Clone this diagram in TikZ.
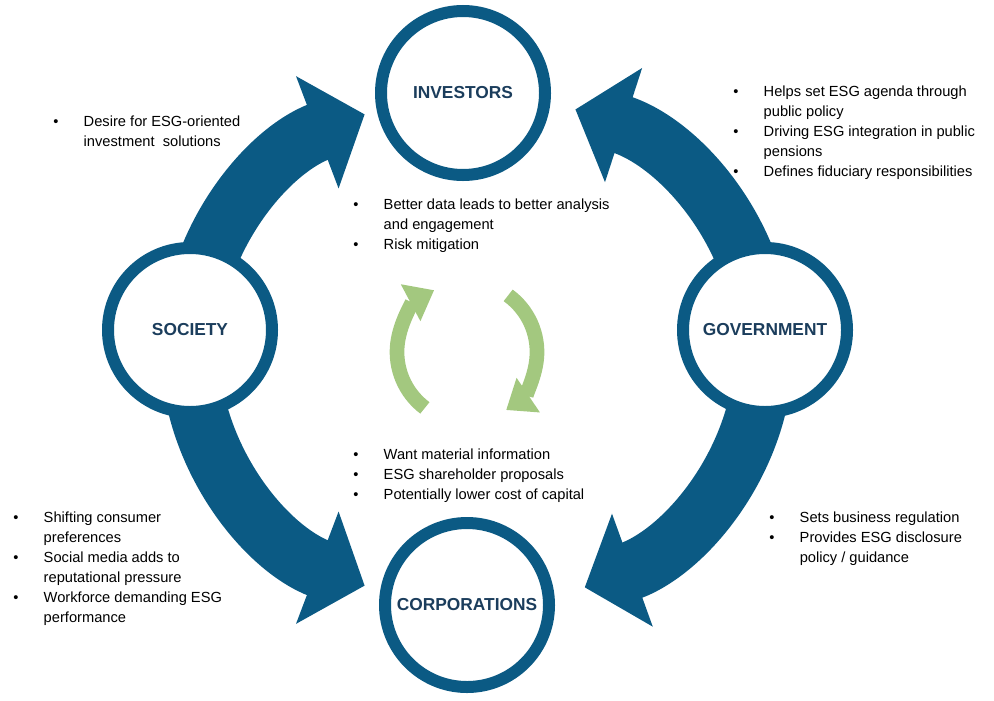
\documentclass[tikz,border=0pt]{standalone}
\usepackage{fontspec}
\setmainfont{Liberation Sans}
\usetikzlibrary{arrows.meta,positioning}
\definecolor{ringblue}{HTML}{0B5A84}
\definecolor{labelblue}{HTML}{1B3D5C}
\definecolor{leafgreen}{HTML}{A3C87F}
\newcommand{\bl}{\textbullet}
\begin{document}
\begin{tikzpicture}[x=0.75pt,y=0.75pt,
  hub/.style={circle,draw=ringblue,line width=9pt,fill=white,minimum size=123pt,
    font=\fontsize{13}{15}\selectfont\bfseries,text=labelblue},
  flow/.style={ringblue,line width=44pt,-{Triangle[length=38pt,width=88pt]}},
  cycle/.style={leafgreen,line width=11pt,-{Triangle[length=20pt,width=30pt]}},
  notes/.style={anchor=north west,inner sep=0pt,font=\fontsize{11}{15}\selectfont}]
\useasboundingbox (0,0) rectangle (994,-700);

% big flows
\draw[flow] (477,-350) ++(175:287 and 256) arc[start angle=175,end angle=113,x radius=215pt,y radius=192pt];
\draw[flow] (477,-350) ++(5:287 and 256) arc[start angle=5,end angle=70,x radius=215pt,y radius=192pt];
\draw[flow] (477,-350) ++(185:287 and 256) arc[start angle=185,end angle=247,x radius=215pt,y radius=192pt];
\draw[flow] (477,-350) ++(-5:287 and 256) arc[start angle=-5,end angle=-68,x radius=215pt,y radius=192pt];

% inner cycle
\draw[cycle] (467,-352) ++(233:70) arc[start angle=233,end angle=118,radius=52.5pt];
\draw[cycle] (467,-352) ++(54:70) arc[start angle=54,end angle=-56,radius=52.5pt];

% hubs
\node[hub] (investors) at (463,-93) {INVESTORS};
\node[hub] (society) at (190,-330) {SOCIETY};
\node[hub] (government) at (765,-330) {GOVERNMENT};
\node[hub] (corporations) at (467,-605) {CORPORATIONS};

% notes
\node[notes] (n1) at (53,-112) {\begin{tabular}[t]{@{}l@{\hspace{19pt}}l@{}}
\bl & Desire for ESG-oriented\\ & investment\ \ solutions\end{tabular}};
\node[notes] (n2) at (733,-82) {\begin{tabular}[t]{@{}l@{\hspace{19pt}}l@{}}
\bl & Helps set ESG agenda through\\ & public policy\\
\bl & Driving ESG integration in public\\ & pensions\\
\bl & Defines fiduciary responsibilities\end{tabular}};
\node[notes] (n3) at (353,-195) {\begin{tabular}[t]{@{}l@{\hspace{19pt}}l@{}}
\bl & Better data\ leads to better analysis\\ & and engagement\\
\bl & Risk mitigation\end{tabular}};
\node[notes] (n4) at (353,-445) {\begin{tabular}[t]{@{}l@{\hspace{19pt}}l@{}}
\bl & Want material information\\
\bl & ESG shareholder proposals\\
\bl & Potentially lower cost of capital\end{tabular}};
\node[notes] (n5) at (13,-508) {\begin{tabular}[t]{@{}l@{\hspace{19pt}}l@{}}
\bl & Shifting consumer\\ & preferences\\
\bl & Social media adds to\\ & reputational pressure\\
\bl & Workforce\ demanding ESG\\ & performance\end{tabular}};
\node[notes] (n6) at (769,-508) {\begin{tabular}[t]{@{}l@{\hspace{19pt}}l@{}}
\bl & Sets business regulation\\
\bl & Provides ESG disclosure\\ & policy / guidance\end{tabular}};
\end{tikzpicture}
\end{document}
